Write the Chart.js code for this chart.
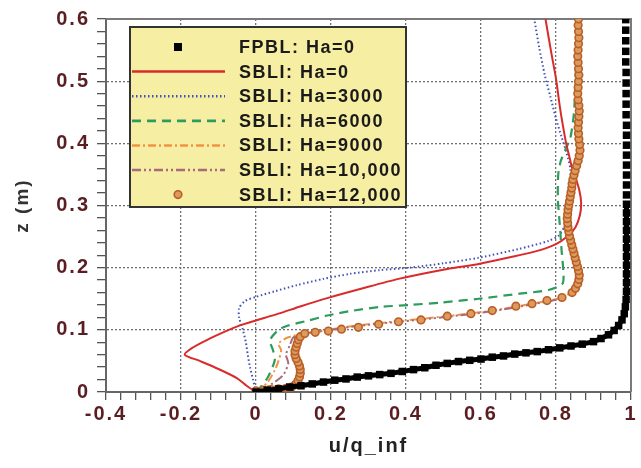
<!DOCTYPE html>
<html>
<head>
<meta charset="utf-8">
<script src="https://cdn.jsdelivr.net/npm/chart.js@4.4.1/dist/chart.umd.min.js"></script>
<style>
  html, body { margin: 0; padding: 0; background: #fff; }
  #wrap { width: 641px; height: 468px; position: relative; }
</style>
</head>
<body>
<div id="wrap"><canvas id="chart"></canvas></div>
<script>
// velocity profiles, pairs of [u/q_inf, z (m)]
const fpblHa0 = [
  [0.000, 0.000], [0.030, 0.003], [0.060, 0.005], [0.090, 0.008], [0.120, 0.010],
  [0.150, 0.013], [0.180, 0.016], [0.210, 0.019], [0.240, 0.021], [0.270, 0.024],
  [0.300, 0.026], [0.330, 0.028], [0.360, 0.030], [0.390, 0.033], [0.420, 0.036],
  [0.450, 0.039], [0.480, 0.043], [0.510, 0.046], [0.540, 0.049], [0.570, 0.051],
  [0.600, 0.053], [0.630, 0.056], [0.660, 0.058], [0.690, 0.061], [0.720, 0.063],
  [0.750, 0.065], [0.780, 0.068], [0.810, 0.071], [0.840, 0.074], [0.870, 0.077],
  [0.900, 0.081], [0.920, 0.086], [0.940, 0.092], [0.955, 0.099], [0.967, 0.107],
  [0.976, 0.116], [0.982, 0.126], [0.985, 0.137], [0.987, 0.149], [0.988, 0.162],
  [0.988, 0.176], [0.988, 0.190], [0.988, 0.204], [0.988, 0.218], [0.988, 0.232],
  [0.988, 0.246], [0.988, 0.260], [0.988, 0.274], [0.988, 0.288], [0.988, 0.302],
  [0.988, 0.317], [0.988, 0.333], [0.988, 0.349], [0.988, 0.365], [0.988, 0.381],
  [0.988, 0.397], [0.988, 0.413], [0.988, 0.429], [0.987, 0.446], [0.987, 0.463],
  [0.987, 0.480], [0.987, 0.497], [0.987, 0.514], [0.986, 0.531], [0.986, 0.548],
  [0.986, 0.565], [0.986, 0.582], [0.986, 0.599]
];
const sbliHa0 = [
  [0.000, 0.000], [-0.025, 0.010], [-0.050, 0.022], [-0.100, 0.037], [-0.150, 0.050],
  [-0.190, 0.060], [-0.170, 0.071], [-0.130, 0.084], [-0.083, 0.097], [-0.048, 0.106],
  [0.000, 0.115], [0.060, 0.126], [0.120, 0.138], [0.190, 0.151], [0.280, 0.166],
  [0.380, 0.182], [0.510, 0.198], [0.594, 0.206], [0.680, 0.217], [0.750, 0.227],
  [0.800, 0.238], [0.830, 0.250], [0.852, 0.265], [0.864, 0.285], [0.867, 0.305],
  [0.862, 0.325], [0.852, 0.345], [0.843, 0.360], [0.835, 0.380], [0.827, 0.400],
  [0.818, 0.430], [0.810, 0.460], [0.800, 0.504], [0.787, 0.547], [0.772, 0.600]
];
const sbliHa3000 = [
  [0.000, 0.000], [-0.008, 0.020], [-0.016, 0.040], [-0.022, 0.060], [-0.027, 0.080],
  [-0.035, 0.100], [-0.045, 0.120], [-0.045, 0.135], [-0.030, 0.146], [0.000, 0.153],
  [0.050, 0.162], [0.110, 0.172], [0.180, 0.182], [0.250, 0.190], [0.330, 0.196],
  [0.410, 0.200], [0.500, 0.207], [0.594, 0.216], [0.700, 0.230], [0.780, 0.243],
  [0.808, 0.252], [0.825, 0.270], [0.835, 0.300], [0.840, 0.330], [0.838, 0.360],
  [0.828, 0.385], [0.815, 0.410], [0.800, 0.440], [0.785, 0.475], [0.770, 0.510],
  [0.755, 0.555], [0.742, 0.600]
];
const sbliHa6000 = [
  [0.000, 0.000], [0.015, 0.010], [0.032, 0.024], [0.050, 0.051], [0.045, 0.068],
  [0.037, 0.083], [0.060, 0.100], [0.086, 0.107], [0.140, 0.115], [0.190, 0.123],
  [0.260, 0.131], [0.335, 0.137], [0.410, 0.140], [0.495, 0.144], [0.594, 0.150],
  [0.700, 0.158], [0.780, 0.164], [0.817, 0.174], [0.820, 0.190], [0.815, 0.227],
  [0.810, 0.270], [0.805, 0.310], [0.806, 0.350], [0.812, 0.370], [0.825, 0.390],
  [0.838, 0.408], [0.848, 0.450], [0.853, 0.520], [0.855, 0.600]
];
const sbliHa9000 = [
  [0.000, 0.000], [0.030, 0.015], [0.050, 0.035], [0.060, 0.050], [0.067, 0.067],
  [0.060, 0.078], [0.086, 0.088], [0.120, 0.093], [0.190, 0.100], [0.270, 0.107],
  [0.380, 0.114], [0.510, 0.122], [0.630, 0.131], [0.736, 0.142], [0.816, 0.152],
  [0.850, 0.165], [0.860, 0.185], [0.852, 0.215], [0.840, 0.250], [0.832, 0.280],
  [0.836, 0.310], [0.843, 0.345], [0.855, 0.380], [0.865, 0.410], [0.862, 0.450],
  [0.860, 0.520], [0.860, 0.600]
];
const sbliHa10000 = [
  [0.000, 0.000], [0.040, 0.012], [0.072, 0.027], [0.086, 0.046], [0.080, 0.060],
  [0.090, 0.075], [0.100, 0.088], [0.130, 0.094], [0.190, 0.099], [0.270, 0.106],
  [0.380, 0.113], [0.510, 0.121], [0.630, 0.130], [0.736, 0.141], [0.816, 0.151],
  [0.848, 0.164], [0.858, 0.184], [0.850, 0.214], [0.838, 0.249], [0.830, 0.280],
  [0.834, 0.312], [0.842, 0.346], [0.853, 0.381], [0.863, 0.411], [0.861, 0.452],
  [0.859, 0.522], [0.858, 0.600]
];
const sbliHa12000 = [
  [0.000, 0.002], [0.020, 0.003], [0.040, 0.004], [0.060, 0.005], [0.080, 0.006],
  [0.095, 0.008], [0.105, 0.012], [0.112, 0.018], [0.116, 0.024], [0.118, 0.030],
  [0.118, 0.036], [0.116, 0.042], [0.112, 0.048], [0.107, 0.054], [0.104, 0.060],
  [0.104, 0.066], [0.107, 0.072], [0.110, 0.078], [0.113, 0.084], [0.118, 0.089],
  [0.130, 0.094], [0.158, 0.096], [0.193, 0.098], [0.228, 0.101], [0.273, 0.104],
  [0.327, 0.109], [0.380, 0.113], [0.440, 0.116], [0.510, 0.122], [0.573, 0.126],
  [0.630, 0.131], [0.693, 0.138], [0.736, 0.142], [0.776, 0.147], [0.816, 0.152],
  [0.843, 0.160], [0.852, 0.167], [0.858, 0.174], [0.861, 0.181], [0.862, 0.188],
  [0.860, 0.195], [0.857, 0.202], [0.854, 0.209], [0.851, 0.216], [0.848, 0.223],
  [0.845, 0.230], [0.842, 0.237], [0.839, 0.244], [0.836, 0.251], [0.834, 0.258],
  [0.832, 0.265], [0.831, 0.272], [0.830, 0.279], [0.831, 0.286], [0.832, 0.293],
  [0.834, 0.300], [0.836, 0.307], [0.838, 0.314], [0.840, 0.321], [0.842, 0.328],
  [0.843, 0.335], [0.845, 0.342], [0.848, 0.349], [0.851, 0.356], [0.855, 0.364],
  [0.859, 0.372], [0.862, 0.380], [0.864, 0.389], [0.863, 0.398], [0.861, 0.407],
  [0.860, 0.416], [0.859, 0.425], [0.860, 0.434], [0.861, 0.443], [0.862, 0.452],
  [0.861, 0.461], [0.859, 0.470], [0.858, 0.480], [0.859, 0.490], [0.860, 0.500],
  [0.861, 0.510], [0.860, 0.520], [0.859, 0.530], [0.858, 0.540], [0.859, 0.550],
  [0.860, 0.560], [0.861, 0.570], [0.860, 0.580], [0.859, 0.590], [0.860, 0.600]
];

const seriesLabels = [
  'FPBL: Ha=0', 'SBLI: Ha=0', 'SBLI: Ha=3000', 'SBLI: Ha=6000',
  'SBLI: Ha=9000', 'SBLI: Ha=10,000', 'SBLI: Ha=12,000'
];
const xMajorTicks = [-0.4, -0.2, 0, 0.2, 0.4, 0.6, 0.8, 1];
const yMajorTicks = [0, 0.1, 0.2, 0.3, 0.4, 0.5, 0.6];

const FONT = '"Liberation Sans", Arial, sans-serif';
const toXY = (pts) => pts.map(([u, z]) => ({ x: u, y: z }));
const isMajor = (list, v) => list.some((m) => Math.abs(m - v) < 1e-6);

// letter spacing on the canvas text, the source figure uses a wide bold face
const textSpacing = {
  id: 'textSpacing',
  beforeDraw(chart) {
    chart.ctx.letterSpacing = '2px';
  },
};

// top and right edge of the plot frame
const plotFrame = {
  id: 'plotFrame',
  beforeDatasetsDraw(chart) {
    const { ctx, chartArea: a } = chart;
    ctx.save();
    ctx.strokeStyle = '#7a7a7a';
    ctx.lineWidth = 2;
    ctx.beginPath();
    ctx.moveTo(a.left, a.top);
    ctx.lineTo(a.right, a.top);
    ctx.lineTo(a.right, a.bottom);
    ctx.stroke();
    ctx.restore();
  },
};

// boxed legend inside the plot, top left
const boxLegend = {
  id: 'boxLegend',
  afterDraw(chart) {
    const { ctx, chartArea: a } = chart;
    const left = a.left + 24;
    const top = a.top + 8;
    const w = 276;
    const h = 180;
    ctx.save();
    ctx.letterSpacing = '1.5px';
    ctx.fillStyle = '#f6eea2';
    ctx.fillRect(left, top, w, h);
    ctx.strokeStyle = '#333';
    ctx.lineWidth = 2;
    ctx.strokeRect(left, top, w, h);

    chart.data.datasets.forEach((ds, i) => {
      const y = top + 20 + i * 24.6;
      if (ds.pointRadius > 0) {
        ctx.save();
        ctx.fillStyle = ds.pointBackgroundColor;
        ctx.strokeStyle = ds.pointBorderColor;
        ctx.lineWidth = ds.pointBorderWidth;
        if (ds.pointStyle === 'rect') {
          ctx.fillRect(left + 44, y - 4, 8, 8);
        } else {
          ctx.beginPath();
          ctx.arc(left + 48, y, ds.pointRadius, 0, Math.PI * 2);
          ctx.fill();
          ctx.stroke();
        }
        ctx.restore();
      } else {
        ctx.save();
        ctx.strokeStyle = ds.borderColor;
        ctx.lineWidth = ds.borderWidth + 0.5;
        ctx.setLineDash(ds.borderDash || []);
        ctx.beginPath();
        ctx.moveTo(left + 2, y);
        ctx.lineTo(left + 95, y);
        ctx.stroke();
        ctx.restore();
      }
      ctx.fillStyle = '#1a1a1a';
      ctx.font = 'bold 18px ' + FONT;
      ctx.textAlign = 'left';
      ctx.textBaseline = 'middle';
      ctx.fillText(ds.label, left + 109, y + 1);
    });
    ctx.restore();
  },
};

const lineSeries = (label, pts, color, width, dash, order) => ({
  label: label,
  data: toXY(pts),
  showLine: true,
  borderColor: color,
  borderWidth: width,
  borderDash: dash,
  pointRadius: 0,
  pointHoverRadius: 0,
  tension: 0.25,
  order: order,
});

const datasets = [
  {
    label: seriesLabels[0],
    data: toXY(fpblHa0),
    showLine: true,
    borderColor: '#000',
    borderWidth: 5,
    segment: {
      borderColor: (c) => (c.p0.parsed.y > 0.3 ? 'rgba(0,0,0,0)' : '#000'),
    },
    pointStyle: 'rect',
    pointRadius: 5.3,
    pointHoverRadius: 5.3,
    pointBackgroundColor: '#000',
    pointBorderColor: '#000',
    pointBorderWidth: 0,
    tension: 0,
    order: 0,
  },
  lineSeries(seriesLabels[1], sbliHa0, '#d92b2b', 2, [], 3),
  lineSeries(seriesLabels[2], sbliHa3000, '#4053b8', 2, [1.5, 2.5], 6),
  lineSeries(seriesLabels[3], sbliHa6000, '#2e9c5c', 2.2, [9, 6], 5),
  lineSeries(seriesLabels[4], sbliHa9000, '#f39440', 2, [8, 3, 2, 3], 4),
  lineSeries(seriesLabels[5], sbliHa10000, '#a86a7c', 2, [9, 3, 2, 3, 2, 3], 2),
  {
    label: seriesLabels[6],
    data: toXY(sbliHa12000),
    showLine: false,
    pointStyle: 'circle',
    pointRadius: 3.8,
    pointHoverRadius: 3.8,
    pointBackgroundColor: '#dc9a5e',
    pointBorderColor: '#b95f26',
    pointBorderWidth: 1.6,
    order: 1,
  },
];

const tickFont = { family: FONT, size: 20, weight: 'bold' };
const titleFont = { family: FONT, size: 20, weight: 'bold' };

new Chart(document.getElementById('chart'), {
  type: 'scatter',
  data: { datasets: datasets },
  options: {
    responsive: true,
    maintainAspectRatio: false,
    animation: false,
    layout: { padding: { left: 0, right: 10, top: 17, bottom: 0 } },
    scales: {
      x: {
        type: 'linear',
        min: -0.4,
        max: 1,
        afterFit: (scale) => { scale.height = 76; },
        ticks: {
          stepSize: 0.04,
          autoSkip: false,
          maxRotation: 0,
          padding: 2,
          color: '#5a1e22',
          font: tickFont,
          callback: (v) => (isMajor(xMajorTicks, v) ? String(v) : ''),
        },
        grid: {
          color: (c) => (isMajor(xMajorTicks, c.tick.value) ? '#707070' : 'rgba(0,0,0,0)'),
          lineWidth: 1.3,
          tickColor: '#555',
          tickLength: 8,
          tickWidth: 1.3,
        },
        border: { color: '#666', width: 2, dash: [2, 2] },
        title: {
          display: true,
          text: 'u/q_inf',
          color: '#222',
          font: titleFont,
          padding: { top: 0, bottom: 10 },
        },
      },
      y: {
        type: 'linear',
        min: 0,
        max: 0.6,
        afterFit: (scale) => { scale.width = 106; },
        ticks: {
          stepSize: 0.02,
          autoSkip: false,
          padding: 7,
          color: '#5a1e22',
          font: tickFont,
          callback: (v) => (isMajor(yMajorTicks, v) ? String(v) : ''),
        },
        grid: {
          color: (c) => (isMajor(yMajorTicks, c.tick.value) ? '#707070' : 'rgba(0,0,0,0)'),
          lineWidth: 1.3,
          tickColor: '#555',
          tickLength: 9,
          tickWidth: 1.3,
        },
        border: { color: '#666', width: 2, dash: [2, 2] },
        title: {
          display: true,
          text: 'z (m)',
          color: '#333',
          font: { family: FONT, size: 19, weight: 'bold' },
          padding: { top: 11, bottom: 0 },
        },
      },
    },
    plugins: {
      legend: { display: false },
      tooltip: { enabled: false },
    },
  },
  plugins: [textSpacing, plotFrame, boxLegend],
});
</script>
</body>
</html>
